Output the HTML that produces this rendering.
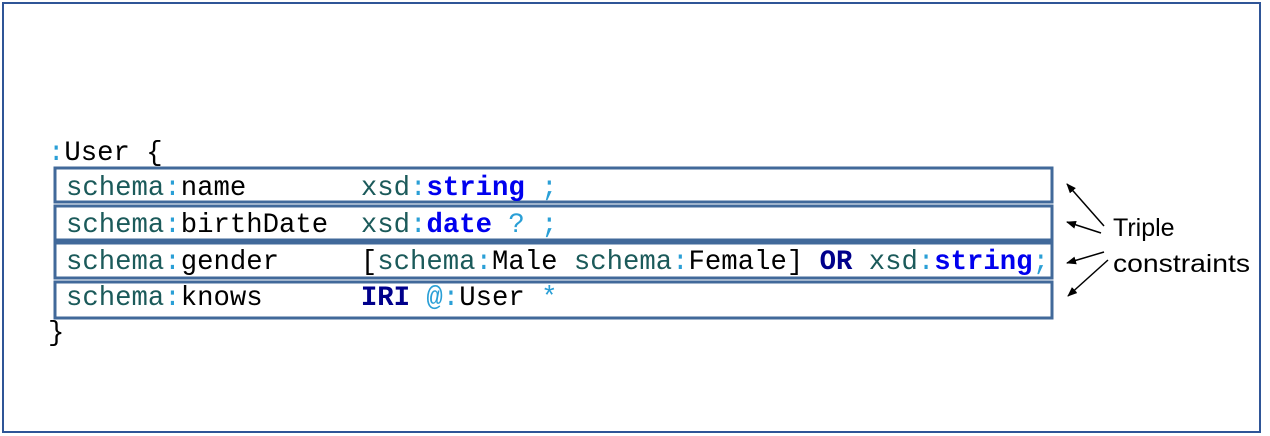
<!DOCTYPE html>
<html><head><meta charset="utf-8"><style>
html,body{margin:0;padding:0;background:#fff;width:1270px;height:436px;overflow:hidden}
svg text{white-space:pre}
.m{font-family:"Liberation Mono",monospace;font-size:27.3px}
.s{fill:#1b5a5a}.c{fill:#2a9fd6}.k{fill:#000}.b{fill:#0000ee;font-weight:bold}.n{fill:#00008b;font-weight:bold}
</style></head><body>
<svg width="1270" height="436" xmlns="http://www.w3.org/2000/svg">
<defs><marker id="a" markerWidth="10" markerHeight="8" refX="9" refY="4" orient="auto" markerUnits="userSpaceOnUse"><path d="M0,0 L10,4 L0,8 z" fill="#000"/></marker></defs>
<rect x="3" y="3" width="1257" height="429" fill="#fff" stroke="#2f5597" stroke-width="2"/>
<g fill="none" stroke="#41699a" stroke-width="3">
<rect x="55" y="168" width="997" height="34"/>
<rect x="55" y="206" width="997" height="34"/>
<rect x="55" y="243" width="997" height="35"/>
<rect x="55" y="282" width="997" height="36"/>
</g>
<g class="m">
<text x="48" y="160"><tspan class="c">:</tspan><tspan class="k">User {</tspan></text>
<text x="66" y="195"><tspan class="s">schema</tspan><tspan class="c">:</tspan><tspan class="k">name       </tspan><tspan class="s">xsd</tspan><tspan class="c">:</tspan><tspan class="b">string</tspan><tspan class="c"> ;</tspan></text>
<text x="66" y="232"><tspan class="s">schema</tspan><tspan class="c">:</tspan><tspan class="k">birthDate  </tspan><tspan class="s">xsd</tspan><tspan class="c">:</tspan><tspan class="b">date</tspan><tspan class="c"> ? ;</tspan></text>
<text x="66" y="269"><tspan class="s">schema</tspan><tspan class="c">:</tspan><tspan class="k">gender     [</tspan><tspan class="s">schema</tspan><tspan class="c">:</tspan><tspan class="k">Male </tspan><tspan class="s">schema</tspan><tspan class="c">:</tspan><tspan class="k">Female] </tspan><tspan class="n">OR</tspan><tspan class="s"> xsd</tspan><tspan class="c">:</tspan><tspan class="b">string</tspan><tspan class="c">;</tspan></text>
<text x="66" y="305"><tspan class="s">schema</tspan><tspan class="c">:</tspan><tspan class="k">knows      </tspan><tspan class="n">IRI</tspan><tspan class="c"> @:</tspan><tspan class="k">User </tspan><tspan class="c">*</tspan></text>
<text x="48" y="340" class="k">}</text>
</g>
<g stroke="#000" stroke-width="1.5" marker-end="url(#a)">
<line x1="1104" y1="226" x2="1067" y2="184"/>
<line x1="1101" y1="233" x2="1067" y2="222"/>
<line x1="1104" y1="252" x2="1067" y2="263"/>
<line x1="1108" y1="260" x2="1068" y2="296"/>
</g>
<g font-family="'Liberation Sans',sans-serif" font-size="25" fill="#000">
<text x="1113" y="236">Triple</text>
<text x="1113" y="272" textLength="137" lengthAdjust="spacingAndGlyphs">constraints</text>
</g>
</svg>
</body></html>
